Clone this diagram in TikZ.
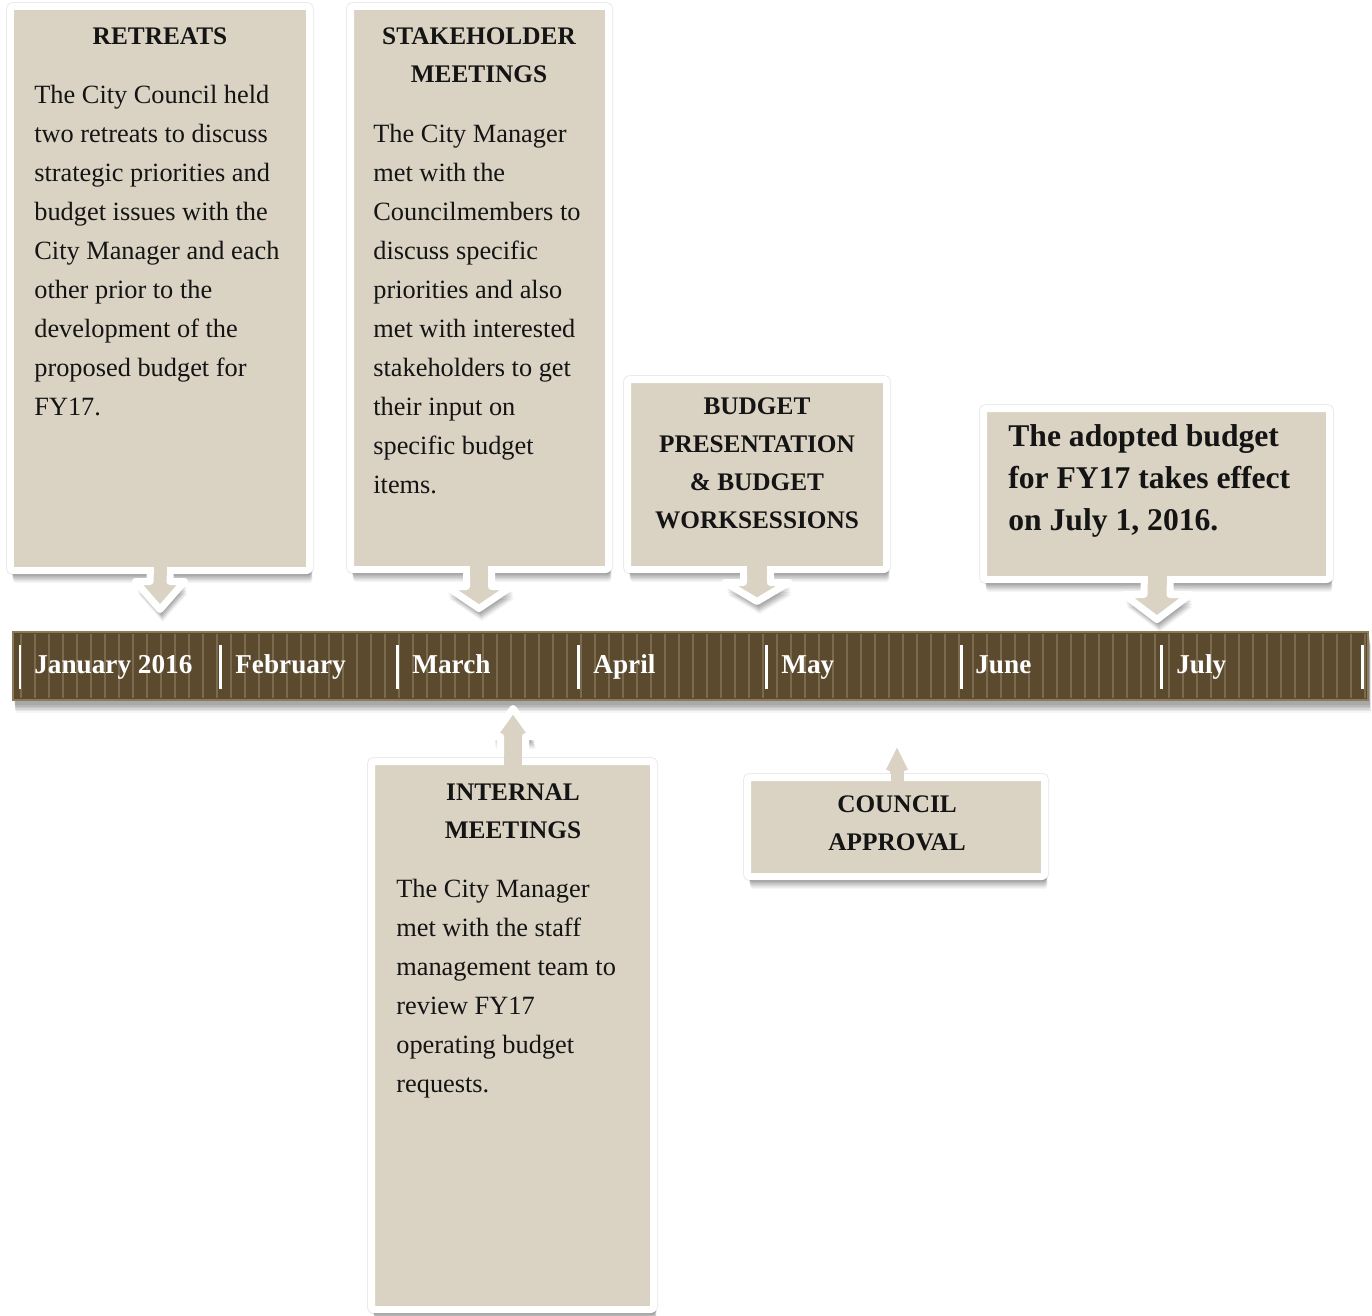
\documentclass[tikz,border=0pt]{standalone}
\usepackage{fontspec}
\setmainfont{Liberation Serif}
\usetikzlibrary{shadows}

\definecolor{boxbeige}{RGB}{218,211,196}
\definecolor{barbrown}{RGB}{91,74,46}
\definecolor{barstripe}{RGB}{122,106,78}
\definecolor{baredge}{RGB}{140,123,88}
\definecolor{inktext}{RGB}{20,20,20}

\tikzset{
  softshade/.style={
    drop shadow={shadow xshift=0.30mm, shadow yshift=-1.0mm, fill=black, opacity=0.08},
    drop shadow={shadow xshift=0.35mm, shadow yshift=-1.3mm, fill=black, opacity=0.08},
    drop shadow={shadow xshift=0.40mm, shadow yshift=-1.6mm, fill=black, opacity=0.08},
    drop shadow={shadow xshift=0.45mm, shadow yshift=-1.9mm, fill=black, opacity=0.07},
    drop shadow={shadow xshift=0.50mm, shadow yshift=-2.2mm, fill=black, opacity=0.06},
    drop shadow={shadow xshift=0.55mm, shadow yshift=-2.5mm, fill=black, opacity=0.04}},
  panel/.style={softshade, preaction={draw=black, draw opacity=0.08, line width=1.8mm},
    fill=boxbeige, draw=white, line width=1.4mm, line join=round, rounded corners=1.5pt},
  arrowbody/.style={softshade, fill=boxbeige, draw=white, line width=1.4mm, line join=round},
  heading/.style={font=\fontsize{14.4}{21.7}\selectfont\bfseries, text=inktext, align=center, inner sep=0pt, anchor=north},
  body/.style={font=\fontsize{15}{22.2}\selectfont, text=inktext, align=left, inner sep=0pt, anchor=north west},
  month/.style={font=\fontsize{15.5}{18}\selectfont\bfseries, text=white, inner sep=0pt, anchor=base west}
}

% x, box edge y, head base y, tip y, shaft half, head half
\newcommand{\callout}[6]{%
  \draw[arrowbody] (#1-#5,#2) -- (#1-#5,#3) -- (#1-#6,#3) -- (#1,#4) -- (#1+#6,#3) -- (#1+#5,#3) -- (#1+#5,#2) -- cycle;
  \fill[boxbeige] (#1-#5+3.5,#2-5) rectangle (#1+#5-3.5,#2+5);
}

\begin{document}
\begin{tikzpicture}[x=0.02cm, y=-0.02cm]
  \useasboundingbox (0,0) rectangle (1372,1315);

  % boxes above the line
  \draw[panel] (10.5,6.5) rectangle (309.5,570.5);
  \callout{160}{570.5}{581.5}{609.5}{10}{24.5}
  \draw[panel] (350.5,6.5) rectangle (608.5,569.5);
  \callout{479}{569.5}{586.5}{608.5}{12.5}{32.5}
  \draw[panel] (627.5,379.5) rectangle (886.5,569.5);
  \callout{757}{569.5}{582.5}{601.5}{13.5}{32}
  \draw[panel] (983.5,408.5) rectangle (1329.5,579.5);
  \callout{1157}{579.5}{594.5}{619.5}{13}{33}

  % time line
  \draw[softshade, fill=barbrown, draw=baredge, line width=0.4mm] (13,632) rectangle (1368,700);
  \foreach \i in {0,...,96}
    \draw[barstripe, line width=0.3mm] (21+14*\i,634) -- (21+14*\i,698);
  \foreach \x in {20,220,397,578,766,961,1161,1362}
    \draw[white, line width=0.6mm] (\x,645) -- (\x,689);
  \foreach \x/\m [count=\i] in {34/January 2016, 235/February, 412/March, 593/April, 781/May, 975/June, 1176/July}
    \node[month] (M\i) at (\x,673) {\m};

  % boxes below the line
  \callout{513}{761.5}{736.5}{708.5}{12.5}{20}
  \draw[panel] (371.5,761.5) rectangle (653.5,1309.5);
  \fill[boxbeige] (504,756) rectangle (522,767);
  \callout{897}{777.5}{773.5}{739.5}{10}{17}
  \draw[panel] (747.5,777.5) rectangle (1044.5,876.5);
  \fill[boxbeige] (890.5,772) rectangle (903.5,783);

  % texts
  \node[heading] (retreatsHead) at (160,27) {RETREATS};
  \node[body] (retreatsText) at (34,85) {The City Council held\\two retreats to discuss\\strategic priorities and\\budget issues with the\\City Manager and each\\other prior to the\\development of the\\proposed budget for\\FY17.};
  \node[heading] (stakeHead) at (479,27) {STAKEHOLDER\\MEETINGS};
  \node[body] (stakeText) at (373,124) {The City Manager\\met with the\\Councilmembers to\\discuss specific\\priorities and also\\met with interested\\stakeholders to get\\their input on\\specific budget\\items.};
  \node[heading] (budgetHead) at (757,397) {BUDGET\\PRESENTATION\\\& BUDGET\\WORKSESSIONS};
  \node[body, font=\fontsize{18}{23.9}\selectfont\bfseries] (adoptText) at (1008,424) {The adopted budget\\for FY17 takes effect\\on July 1, 2016.};
  \node[heading] (internalHead) at (513,783) {INTERNAL\\MEETINGS};
  \node[body] (internalText) at (396,879) {The City Manager\\met with the staff\\management team to\\review FY17\\operating budget\\requests.};
  \node[heading] (councilHead) at (897,795) {COUNCIL\\APPROVAL};
\end{tikzpicture}
\end{document}
